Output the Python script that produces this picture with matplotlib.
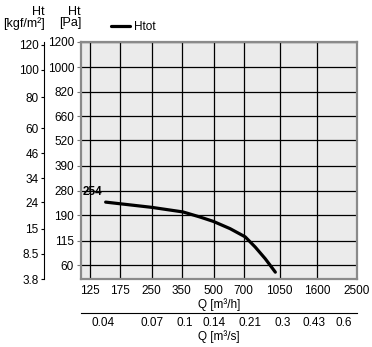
#!/usr/bin/env python3
"""
Fan curve: total pressure Ht against air flow Q
"""

import numpy as np
import matplotlib
matplotlib.use('Agg')
import matplotlib.pyplot as plt
from matplotlib.ticker import NullLocator

plt.rcParams['font.family'] = ['Liberation Sans', 'DejaVu Sans']

# Axis ticks
q_ticks = [125, 175, 250, 350, 500, 700, 1050, 1600, 2500]          # m3/h
pa_ticks = [60, 115, 190, 280, 390, 520, 660, 820, 1000, 1200]       # Pa
kgf_ticks = [3.8, 8.5, 15, 24, 34, 46, 60, 80, 100, 120]              # kgf/m2
qs_ticks = [0.04, 0.07, 0.1, 0.14, 0.21, 0.3, 0.43, 0.6]             # m3/s

# Htot curve
q_curve = [149, 250, 355, 430, 499, 602, 713, 798, 893, 1000]
h_curve = [236, 217, 201, 184, 170, 148, 125, 99, 73, 48]
peak_label = '254'

KGF = 9.807
FS = 8.5


def fwd(y):
    return np.sqrt(np.maximum(y, 0))


def inv(y):
    return np.asarray(y) ** 2


fig = plt.figure(figsize=(3.72, 3.47), dpi=100)
ax = fig.add_axes([81 / 372, 1 - 279 / 347, 276 / 372, 237 / 347])
ax.set_facecolor('#ebebeb')

ax.set_xscale('log')
ax.set_yscale('function', functions=(fwd, inv))
ax.set_xlim(113, 2500)
ax.set_ylim(3.8 * KGF, 1200)

ax.set_xticks(q_ticks)
ax.set_xticklabels([str(v) for v in q_ticks])
ax.xaxis.set_minor_locator(NullLocator())
ax.set_yticks(pa_ticks)
ax.set_yticklabels([str(v) for v in pa_ticks])
ax.yaxis.set_minor_locator(NullLocator())
ax.tick_params(axis='x', length=0, labelsize=FS, pad=4)
ax.tick_params(axis='y', length=3, labelsize=FS, pad=2, color='#777777')

ax.grid(True, color='black', linewidth=0.9)
ax.set_axisbelow(True)
for s in ax.spines.values():
    s.set_color('#8a8a8a')
    s.set_linewidth(1.6)

ax.set_xlabel('Q [m³/h]', fontsize=FS, labelpad=1)

# Htot curve
ax.plot(q_curve, h_curve, color='black', linewidth=2.3,
        solid_capstyle='round', solid_joinstyle='round', label='Htot')
ax.annotate(peak_label, (q_curve[0], h_curve[0]), xytext=(-23, 4),
            textcoords='offset pixels', fontsize=FS, fontweight='bold',
            ha='left', va='bottom')

# Legend above the plot
ax.legend(loc='center left', bbox_to_anchor=(0.11, 1.063), frameon=False,
          fontsize=FS, handlelength=1.6, handletextpad=0.3,
          borderpad=0, borderaxespad=0)

# Left axis in kgf/m2, same pressure scale as the Pa axis
ax_k = ax.twinx()
ax_k.set_yscale('function', functions=(fwd, inv))
ax_k.set_ylim(ax.get_ylim())
ax_k.yaxis.set_ticks_position('left')
ax_k.yaxis.set_label_position('left')
ax_k.spines['left'].set_position(('axes', -0.134))
for side in ('right', 'top', 'bottom'):
    ax_k.spines[side].set_visible(False)
ax_k.spines['left'].set_linewidth(0.8)
ax_k.set_yticks([k * KGF for k in kgf_ticks])
ax_k.set_yticklabels([('%g' % v) for v in kgf_ticks])
ax_k.yaxis.set_minor_locator(NullLocator())
ax_k.tick_params(length=2, labelsize=FS, pad=2)

# Bottom axis in m3/s
ax_s = ax.secondary_xaxis(-0.143, functions=(lambda q: q / 3600,
                                             lambda s: s * 3600))
ax_s.set_xticks(qs_ticks)
ax_s.set_xticklabels([('%g' % v) for v in qs_ticks])
ax_s.xaxis.set_minor_locator(NullLocator())
ax_s.tick_params(length=0, labelsize=FS, pad=3)
ax_s.spines['bottom'].set_linewidth(0.8)
ax_s.set_xlabel('Q [m³/s]', fontsize=FS, labelpad=1)

# Axis titles
fig.text(45 / 372, 1 - 6 / 347, 'Ht\n[kgf/m²]', ha='right', va='top',
         fontsize=9, multialignment='right', linespacing=0.9)
fig.text(81 / 372, 1 - 6 / 347, 'Ht\n[Pa]', ha='right', va='top',
         fontsize=9, multialignment='right', linespacing=0.9)

fig.savefig('out.png', dpi=100)
